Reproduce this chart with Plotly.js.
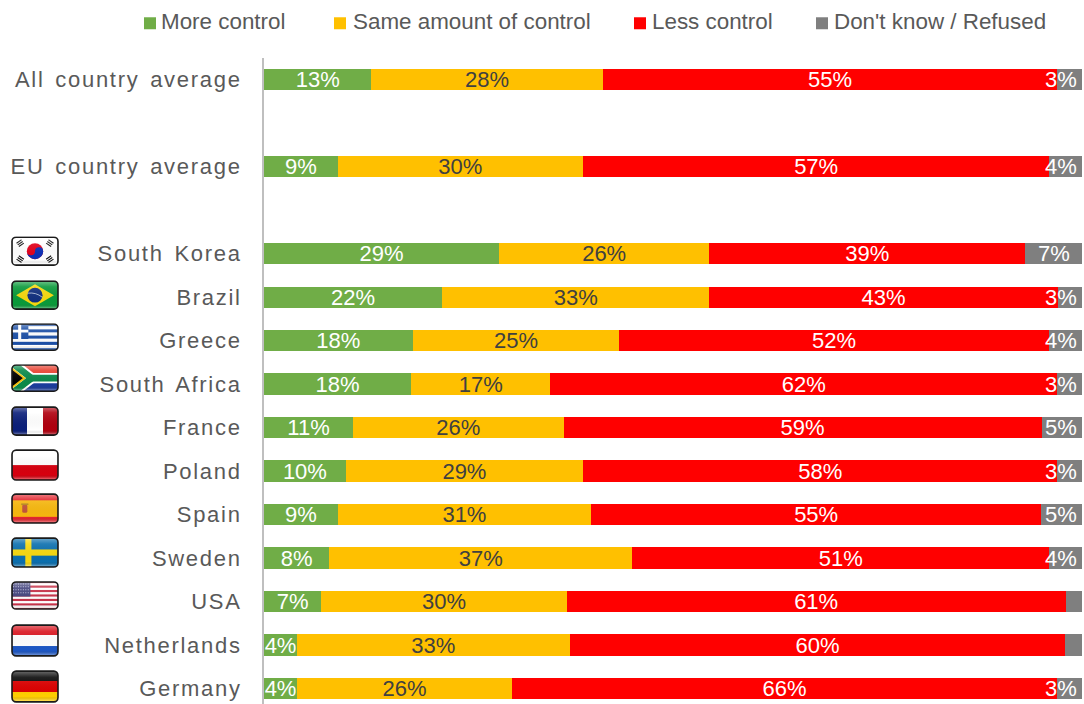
<!DOCTYPE html>
<html>
<head>
<meta charset="utf-8">
<script src="https://cdn.plot.ly/plotly-3.0.1.min.js"></script>
<style>
  html, body { margin: 0; padding: 0; background: #fff; overflow: hidden; }
  #chart { width: 1084px; height: 704px; }
  #chart .ytick text { letter-spacing: 1.7px; word-spacing: 3px; }
</style>
</head>
<body>
<div id="chart"></div>
<script>
// Survey shares per country, in percent
const countries = ['All country average', 'EU country average', 'South Korea', 'Brazil', 'Greece',
  'South Africa', 'France', 'Poland', 'Spain', 'Sweden', 'USA', 'Netherlands', 'Germany'];
const moreControl = [13, 9, 29, 22, 18, 18, 11, 10, 9, 8, 7, 4, 4];
const sameControl = [28, 30, 26, 33, 25, 17, 26, 29, 31, 37, 30, 33, 26];
const lessControl = [55, 57, 39, 43, 52, 62, 59, 58, 55, 51, 61, 60, 66];
const dontKnow = [3, 4, 7, 3, 4, 3, 5, 3, 5, 4, 2, 2, 3];

const seriesNames = ['More control', 'Same amount of control', 'Less control', "Don't know / Refused"];
const seriesColors = ['#70AD47', '#FFC000', '#FF0000', '#7F7F7F'];
const labelColors = ['#FFFFFF', '#404040', '#FFFFFF', '#FFFFFF'];
const seriesValues = [moreControl, sameControl, lessControl, dontKnow];

const FONT = 'Liberation Sans, Arial, sans-serif';
const W = 1084, H = 704;
const M = { l: 264, r: 2, t: 57.75, b: 0 };
const plotW = W - M.l - M.r, plotH = H - M.t - M.b;

// Blank categories keep the two averages apart from each other and from the countries
const categoryOrder = [countries[0], ' ', countries[1], '  ', ...countries.slice(2)];

const pct = v => v + '%';
const traces = seriesValues.slice(0, 3).map((vals, s) => ({
  type: 'bar', orientation: 'h', name: seriesNames[s],
  y: countries, x: vals,
  marker: { color: seriesColors[s], line: { width: 0 } },
  text: vals.map(pct), textposition: 'inside', insidetextanchor: 'middle',
  textangle: 0, constraintext: 'none', cliponaxis: false,
  textfont: { family: FONT, size: 22, color: labelColors[s] },
  hoverinfo: 'y+name+text'
}));
traces.push({
  type: 'bar', orientation: 'h', name: seriesNames[3],
  y: countries, x: dontKnow,
  marker: { color: seriesColors[3], line: { width: 0 } },
  hoverinfo: 'y+name+x'
});

// Labels on the last segment stay inside the plot's right edge; segments under 3% carry none
const annotations = [];
countries.forEach((c, i) => {
  const v = dontKnow[i];
  if (v < 3) return;
  const total = moreControl[i] + sameControl[i] + lessControl[i] + v;
  const share = v / total * 100;
  const wide = share > 6;
  annotations.push({
    xref: 'x', yref: 'y', x: wide ? 100 - share / 2 : 100, y: c,
    xanchor: wide ? 'center' : 'right', xshift: wide ? 0 : -4, yanchor: 'middle',
    text: pct(v), showarrow: false, borderpad: 0,
    font: { family: FONT, size: 22, color: '#FFFFFF' }
  });
});

// Legend row along the top of the page
const swatchX = [144, 334, 634, 816];
const legendTextX = [160, 351.5, 651, 833];
const shapes = [];
seriesNames.forEach((name, s) => {
  shapes.push({
    type: 'rect', xref: 'paper', yref: 'paper', line: { width: 0 }, fillcolor: seriesColors[s],
    x0: (swatchX[s] - M.l) / plotW, x1: (swatchX[s] + 12 - M.l) / plotW,
    y0: 1 + (M.t - 29) / plotH, y1: 1 + (M.t - 17) / plotH
  });
  annotations.push({
    xref: 'paper', yref: 'paper', x: (legendTextX[s] - M.l) / plotW, y: 1 + (M.t - 21.5) / plotH,
    xanchor: 'left', yanchor: 'middle', showarrow: false, text: name, borderpad: 0,
    font: { family: FONT, size: 22.4, color: '#595959' }
  });
});

// Glossy rounded flag badges
function badge(body) {
  const svg = `<svg xmlns="http://www.w3.org/2000/svg" viewBox="0 0 47 30" width="188" height="120">
    <defs><clipPath id="c"><rect x="1" y="1" width="45" height="28" rx="4"/></clipPath>
    <linearGradient id="g" x1="0" y1="0" x2="0" y2="1">
      <stop offset="0" stop-color="#fff" stop-opacity=".45"/><stop offset=".22" stop-color="#fff" stop-opacity=".1"/>
      <stop offset=".8" stop-color="#000" stop-opacity="0"/><stop offset=".92" stop-color="#fff" stop-opacity=".3"/>
      <stop offset="1" stop-color="#000" stop-opacity=".12"/></linearGradient></defs>
    <g clip-path="url(#c)">${body}<rect width="47" height="30" fill="url(#g)"/></g>
    <rect x="1" y="1" width="45" height="28" rx="4" fill="none" stroke="#1a1a1a" stroke-width="1.6"/></svg>`;
  return 'data:image/svg+xml;charset=utf-8,' + encodeURIComponent(svg);
}
const bands = (cols) => cols.map((c, i) => `<rect y="${i * 30 / cols.length}" width="47" height="${30 / cols.length + .2}" fill="${c}"/>`).join('');
const vbands = (cols) => cols.map((c, i) => `<rect x="${i * 47 / cols.length}" width="${47 / cols.length + .2}" height="30" fill="${c}"/>`).join('');
const trigram = (x, y, a) => `<g transform="translate(${x} ${y}) rotate(${a})" stroke="#111" stroke-width="1.1"><path d="M-3-2H3M-3 0H3M-3 2H3"/></g>`;

const flagArt = {
  'South Korea': `<rect width="47" height="30" fill="#fff"/>
    <circle cx="23.5" cy="15" r="8" fill="#e3001b"/><path d="M15.5 15a8 8 0 0 0 16 0a4 4 0 0 0-8 0a4 4 0 0 1-8 0z" fill="#0a2fb8"/>
    ${trigram(9, 7, -35)}${trigram(38, 7, 35)}${trigram(9, 23, 35)}${trigram(38, 23, -35)}`,
  'Brazil': `<rect width="47" height="30" fill="#0a9a3a"/><path d="M23.5 4L42 15L23.5 26L5 15z" fill="#f6d90f"/><circle cx="23.5" cy="15" r="7.4" fill="#12307f"/>
    <path d="M16.5 13q8-1 14 4" stroke="#cdd8ea" stroke-width=".8" fill="none"/>`,
  'Greece': bands(['#1c4fa6', '#fff', '#1c4fa6', '#fff', '#1c4fa6', '#fff', '#1c4fa6', '#fff', '#1c4fa6']) +
    `<rect width="17" height="17" fill="#1c4fa6"/><rect x="7" width="3" height="17" fill="#fff"/><rect y="7" width="17" height="3" fill="#fff"/>`,
  'South Africa': `<rect width="47" height="15" fill="#e8402f"/><rect y="15" width="47" height="15" fill="#1b3c9c"/>
    <path d="M0 -2L20 15L0 32" fill="none" stroke="#fff" stroke-width="11"/><path d="M20 15H47" stroke="#fff" stroke-width="11"/>
    <path d="M0 -2L20 15L0 32" fill="none" stroke="#0a8a4a" stroke-width="7"/><path d="M20 15H47" stroke="#0a8a4a" stroke-width="7"/>
    <path d="M0 4L13 15L0 26z" fill="#000" stroke="#f4c20d" stroke-width="2"/>`,
  'France': vbands(['#0b1f7a', '#ffffff', '#b0000f']),
  'Poland': bands(['#ffffff', '#d7000f']),
  'Spain': `<rect width="47" height="30" fill="#e3262f"/><rect y="7" width="47" height="16" fill="#f7b80f"/>
    <rect x="11" y="11" width="5" height="8" rx="1.5" fill="#c2543a"/><rect x="10" y="10" width="7" height="1.6" fill="#b8881c"/>`,
  'Sweden': `<rect width="47" height="30" fill="#0b6fae"/><rect x="14" width="6" height="30" fill="#f8d90f"/><rect y="12" width="47" height="6" fill="#f8d90f"/>`,
  'USA': bands(['#c8334a', '#fff', '#c8334a', '#fff', '#c8334a', '#fff', '#c8334a', '#fff', '#c8334a', '#fff', '#c8334a', '#fff', '#c8334a']) +
    `<rect width="19" height="16" fill="#46477f"/><path d="M2 3H18M2 6H18M2 9H18M2 12H18" stroke="#bfc0dd" stroke-width="1" stroke-dasharray="1 1.4"/>`,
  'Netherlands': bands(['#d9141e', '#ffffff', '#1d57c4']),
  'Germany': bands(['#0a0a0a', '#dd0000', '#ffce00'])
};
// Vertical extent of each badge on the page
const flagBox = {
  'South Korea': [236, 266], 'Brazil': [280, 310], 'Greece': [323, 351], 'South Africa': [364, 392],
  'France': [406, 436], 'Poland': [449, 481], 'Spain': [493, 524], 'Sweden': [537, 568],
  'USA': [581, 610], 'Netherlands': [624, 657], 'Germany': [670, 703]
};
const images = Object.keys(flagArt).map(c => ({
  source: badge(flagArt[c]), xref: 'paper', yref: 'paper', layer: 'above',
  x: (11 - M.l) / plotW, sizex: 48 / plotW,
  y: 1 - (flagBox[c][0] - M.t) / plotH, sizey: (flagBox[c][1] - flagBox[c][0]) / plotH,
  xanchor: 'left', yanchor: 'top', sizing: 'stretch'
}));

const layout = {
  width: W, height: H, margin: M, paper_bgcolor: '#fff', plot_bgcolor: '#fff',
  barmode: 'stack', barnorm: 'percent', bargap: 0.51, showlegend: false,
  xaxis: { range: [0, 100], visible: false, fixedrange: true },
  yaxis: {
    type: 'category', categoryorder: 'array', categoryarray: categoryOrder,
    range: [14.356, -0.5], dtick: 1, tickmode: 'linear', ticks: '', ticklabelstandoff: 16,
    showgrid: false, zeroline: false, showline: true, linecolor: '#BFBFBF', linewidth: 2,
    tickfont: { family: FONT, size: 22, color: '#595959' }, fixedrange: true
  },
  shapes, annotations, images,
  font: { family: FONT }
};

Plotly.newPlot('chart', traces, layout, { displayModeBar: false, staticPlot: true });
</script>
</body>
</html>
